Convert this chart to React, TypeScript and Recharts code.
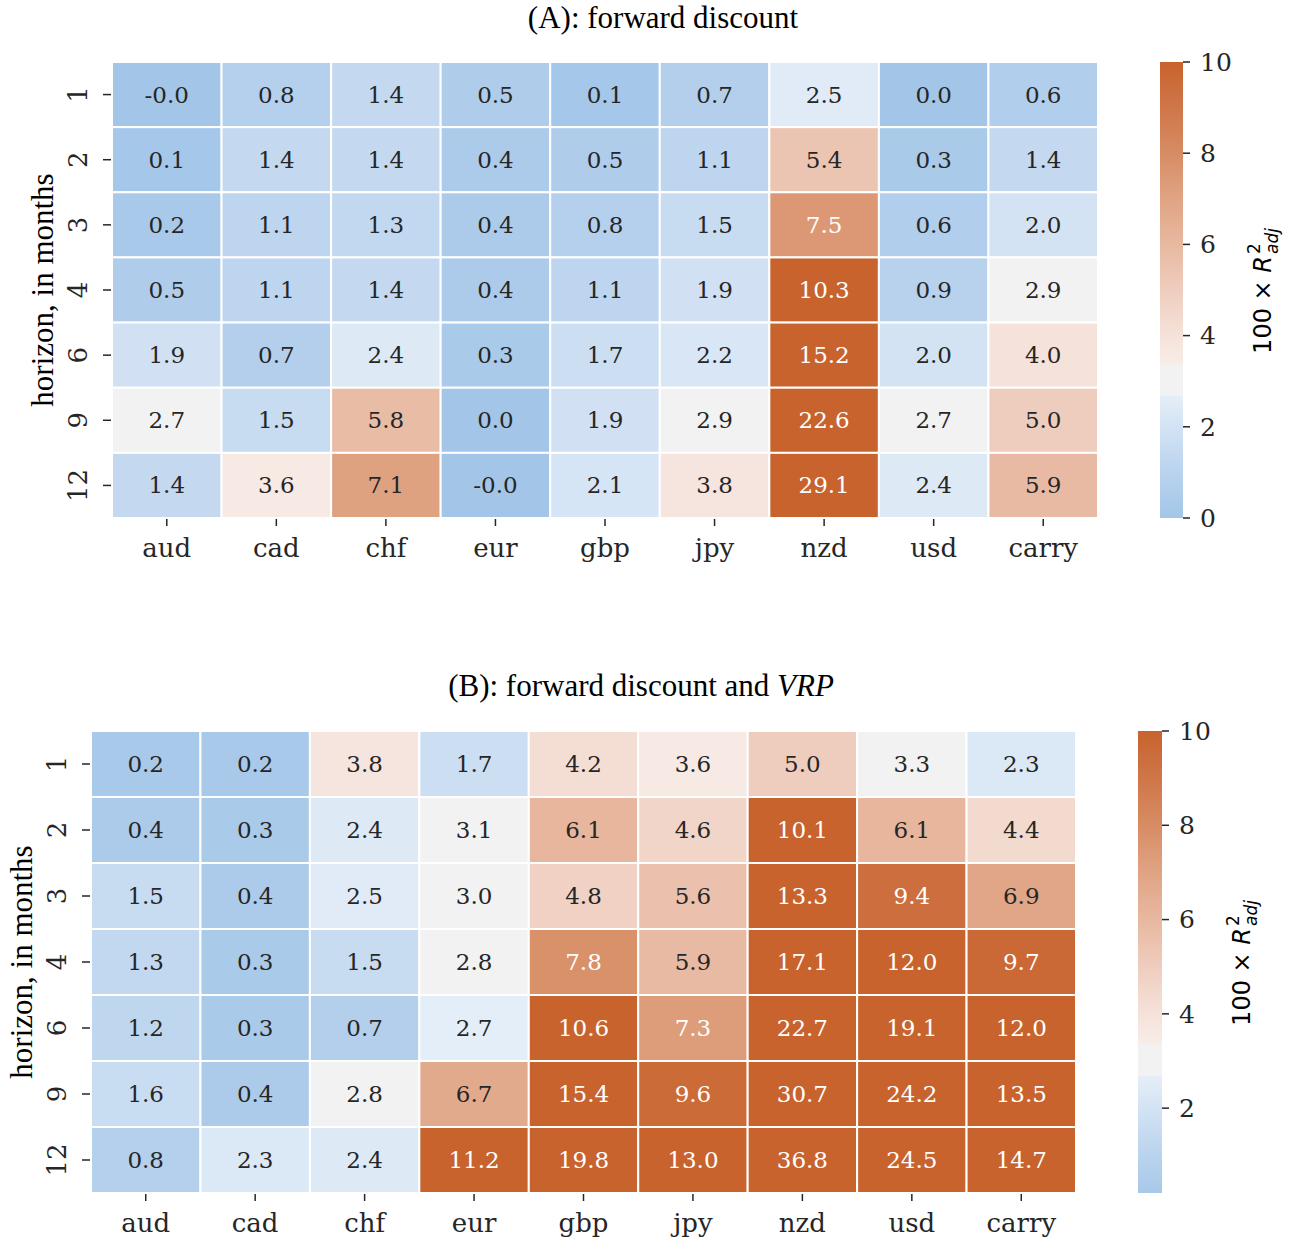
import React from 'react'
import { ScatterChart, Scatter, XAxis, YAxis, BarChart, Bar } from 'recharts'

const COLS = ['aud', 'cad', 'chf', 'eur', 'gbp', 'jpy', 'nzd', 'usd', 'carry']
const HORIZONS = ['1', '2', '3', '4', '6', '9', '12']

// (A) forward discount, rows = horizons
const FD = [
  [-0.02, 0.8, 1.4, 0.5, 0.1, 0.7, 2.5, 0.0, 0.6],
  [0.1, 1.4, 1.4, 0.4, 0.5, 1.1, 5.4, 0.3, 1.4],
  [0.2, 1.1, 1.3, 0.4, 0.8, 1.5, 7.5, 0.6, 2.0],
  [0.5, 1.1, 1.4, 0.4, 1.1, 1.9, 10.3, 0.9, 2.9],
  [1.9, 0.7, 2.4, 0.3, 1.7, 2.2, 15.2, 2.0, 4.0],
  [2.7, 1.5, 5.8, 0.0, 1.9, 2.9, 22.6, 2.7, 5.0],
  [1.4, 3.6, 7.1, -0.02, 2.1, 3.8, 29.1, 2.4, 5.9],
]

// (B) forward discount and VRP
const FD_VRP = [
  [0.2, 0.2, 3.8, 1.7, 4.2, 3.6, 5.0, 3.3, 2.3],
  [0.4, 0.3, 2.4, 3.1, 6.1, 4.6, 10.1, 6.1, 4.4],
  [1.5, 0.4, 2.5, 3.0, 4.8, 5.6, 13.3, 9.4, 6.9],
  [1.3, 0.3, 1.5, 2.8, 7.8, 5.9, 17.1, 12.0, 9.7],
  [1.2, 0.3, 0.7, 2.66, 10.6, 7.3, 22.7, 19.1, 12.0],
  [1.6, 0.4, 2.8, 6.7, 15.4, 9.6, 30.7, 24.2, 13.5],
  [0.8, 2.3, 2.4, 11.2, 19.8, 13.0, 36.8, 24.5, 14.7],
]

// colour scale limits and colourbar ticks
const CB_MIN_A = 0
const CB_MIN_B = 0.2
const CB_MAX = 10
const CB_TICKS_A = [0, 2, 4, 6, 8, 10]
const CB_TICKS_B = [2, 4, 6, 8, 10]

const INK = '#262626'
const SERIF = "'DejaVu Serif', serif"
const TITLE_FONT = "'Liberation Serif', serif"

// diverging blue -> light grey -> orange, centred at 3
const BLUE: [number, number, number, number][] = [
  [-1, 150, 190, 228],
  [0, 163, 198, 232],
  [1, 186, 211, 238],
  [2, 211, 227, 244],
  [2.68, 229, 238, 248],
]
const ORANGE: [number, number, number, number][] = [
  [3.35, 248, 237, 232],
  [4, 245, 226, 218],
  [5, 239, 205, 190],
  [6, 232, 184, 160],
  [7, 224, 164, 132],
  [8, 215, 140, 100],
  [9, 207, 118, 72],
  [10, 200, 99, 46],
]

function interp(stops: [number, number, number, number][], v: number) {
  if (v <= stops[0][0]) return stops[0].slice(1)
  const last = stops[stops.length - 1]
  if (v >= last[0]) return last.slice(1)
  for (let i = 1; i < stops.length; i++) {
    const a = stops[i - 1], b = stops[i]
    if (v <= b[0]) {
      const t = (v - a[0]) / (b[0] - a[0])
      return [1, 2, 3].map(k => Math.round(a[k] + (b[k] - a[k]) * t))
    }
  }
  return last.slice(1)
}

function heatColor(v: number) {
  if (v >= 2.68 && v <= 3.35) return '#f2f2f2'
  const c = v < 2.68 ? interp(BLUE, v) : interp(ORANGE, v)
  return `rgb(${c[0]},${c[1]},${c[2]})`
}

function gradStops(vmin: number, vmax: number) {
  const out = []
  const n = 400
  for (let i = 0; i <= n; i++) {
    const v = vmin + ((vmax - vmin) * i) / n
    out.push(<stop key={i} offset={`${(i / n) * 100}%`} stopColor={heatColor(v)} />)
  }
  return out
}

function toCells(rows: number[][]) {
  const cells = []
  rows.forEach((row, r) => row.forEach((v, c) => cells.push({ x: c + 0.5, y: r + 0.5, v })))
  return cells
}

const makeShape = (cw: number, ch: number) => (props: any) => {
  const { cx, cy } = props
  const v = props.payload?.v ?? props.v
  return (
    <g>
      <rect x={cx - cw / 2} y={cy - ch / 2} width={cw} height={ch} fill={heatColor(v)} stroke="#fff" strokeWidth={2} />
      <text x={cx} y={cy} textAnchor="middle" dominantBaseline="central" fontFamily={SERIF} fontSize={23} fill={v > 7.2 ? '#fff' : INK}>
        {v.toFixed(1)}
      </text>
    </g>
  )
}

const YTick = (props: any) => {
  const { x, y, payload } = props
  const cx = x - 23
  return (
    <text x={cx} y={y} transform={`rotate(-90, ${cx}, ${y})`} textAnchor="middle" dominantBaseline="central" fontFamily={SERIF} fontSize={26} fill={INK}>
      {HORIZONS[Math.floor(payload.value)]}
    </text>
  )
}

const YTitle = (props: any) => {
  const vb = props.viewBox
  const cx = vb.x + vb.width - 70
  const cy = vb.y + vb.height / 2
  return (
    <text x={cx} y={cy} transform={`rotate(-90, ${cx}, ${cy})`} textAnchor="middle" dominantBaseline="central" fontFamily={TITLE_FONT} fontSize={31} fill="#000">
      horizon, in months
    </text>
  )
}

const CbLabel = (props: any) => {
  const vb = props.viewBox
  const cx = vb.x + 80
  const cy = vb.y + vb.height / 2
  return (
    <g transform={`translate(${cx}, ${cy}) rotate(-90)`} fontFamily="'DejaVu Sans', sans-serif" fill="#000">
      <text x={34} y={0} textAnchor="end" dominantBaseline="central" fontSize={24}>
        100 × <tspan fontStyle="italic">R</tspan>
      </text>
      <text x={36} y={-9} fontSize={17} dominantBaseline="central">2</text>
      <text x={36} y={9} fontSize={17} fontStyle="italic" dominantBaseline="central">adj</text>
    </g>
  )
}

type PanelProps = {
  rows: number[][]
  left: number
  top: number
  width: number
  plotLeft: number
  bottomMargin: number
}

function Heatmap({ rows, left, top, width, plotLeft, bottomMargin }: PanelProps) {
  const height = 580
  const plotW = width - plotLeft - 2
  const plotH = height - 62 - bottomMargin - 40
  const shape = makeShape(plotW / COLS.length, plotH / HORIZONS.length)
  return (
    <div style={{ position: 'absolute', left, top }}>
      <ScatterChart width={width} height={height} margin={{ top: 62, right: 2, bottom: bottomMargin, left: 0 }}>
        <XAxis
          type="number"
          dataKey="x"
          domain={[0, COLS.length]}
          ticks={COLS.map((_, i) => i + 0.5)}
          interval={0}
          tickFormatter={(v: number) => COLS[Math.floor(v)]}
          axisLine={false}
          tickLine={{ stroke: INK, strokeWidth: 1.5 }}
          tickSize={8}
          tickMargin={13}
          height={40}
          tick={{ fontFamily: SERIF, fontSize: 26, fill: INK }}
        />
        <YAxis
          type="number"
          dataKey="y"
          domain={[0, HORIZONS.length]}
          reversed
          ticks={HORIZONS.map((_, i) => i + 0.5)}
          interval={0}
          axisLine={false}
          tickLine={{ stroke: INK, strokeWidth: 1.5 }}
          tickSize={9}
          tickMargin={2}
          width={plotLeft}
          tick={<YTick />}
          label={{ content: YTitle }}
        />
        <Scatter data={toCells(rows)} shape={shape} isAnimationActive={false} />
      </ScatterChart>
    </div>
  )
}

type CbProps = { left: number; top: number; width: number; bottom: number; vmin: number; ticks: number[]; id: string; right: number }

function ColorBar({ left, top, width, bottom, vmin, ticks, id, right }: CbProps) {
  const data = [{ name: 'scale', top: CB_MAX }]
  return (
    <div style={{ position: 'absolute', left, top }}>
      <BarChart width={width} height={580} data={data} margin={{ top: 62, right, bottom, left: 60 }} barCategoryGap={0}>
        <XAxis dataKey="name" hide />
        <YAxis
          type="number"
          orientation="right"
          domain={[vmin, CB_MAX]}
          ticks={ticks}
          interval={0}
          width={100}
          axisLine={false}
          tickLine={{ stroke: INK, strokeWidth: 1.5 }}
          tickSize={7}
          tickMargin={10}
          tick={{ fontFamily: SERIF, fontSize: 25, fill: INK }}
          label={{ content: CbLabel }}
        />
        <Bar dataKey="top" fill={`url(#${id})`} isAnimationActive={false} />
      </BarChart>
    </div>
  )
}

export default function App() {
  return (
    <div style={{ position: 'absolute', left: 0, top: 0, width: 1291, height: 1240, background: '#fff' }}>
      <svg width={0} height={0} style={{ position: 'absolute' }}>
        <defs>
          <linearGradient id="cbA" x1="0" y1="1" x2="0" y2="0">{gradStops(CB_MIN_A, CB_MAX)}</linearGradient>
          <linearGradient id="cbB" x1="0" y1="1" x2="0" y2="0">{gradStops(CB_MIN_B, CB_MAX)}</linearGradient>
        </defs>
      </svg>

      <Heatmap rows={FD} left={0} top={0} width={1100} plotLeft={112} bottomMargin={22} />
      <ColorBar left={1100} top={0} width={191} bottom={62} vmin={CB_MIN_A} ticks={CB_TICKS_A} id="cbA" right={8} />

      <Heatmap rows={FD_VRP} left={0} top={669} width={1078} plotLeft={91} bottomMargin={16} />
      <ColorBar left={1078} top={669} width={213} bottom={56} vmin={CB_MIN_B} ticks={CB_TICKS_B} id="cbB" right={29} />

      <svg width={1291} height={1240} style={{ position: 'absolute', left: 0, top: 0, pointerEvents: 'none' }}>
        <text x={663} y={28} textAnchor="middle" fontFamily={TITLE_FONT} fontSize={31} fill="#000">
          (A): forward discount
        </text>
        <text x={641} y={696} textAnchor="middle" fontFamily={TITLE_FONT} fontSize={31} fill="#000">
          (B): forward discount and <tspan fontStyle="italic">VRP</tspan>
        </text>
      </svg>
    </div>
  )
}
